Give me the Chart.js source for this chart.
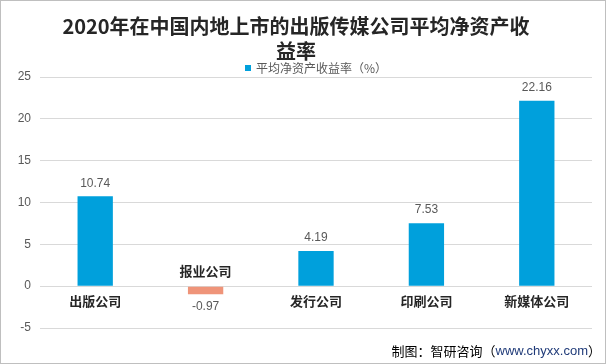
<!DOCTYPE html>
<html>
<head>
<meta charset="utf-8">
<script src="https://cdn.jsdelivr.net/npm/chart.js@4"></script>
<style>
  html, body { margin: 0; padding: 0; background: #fff; }
  #wrap { width: 606px; height: 364px; position: relative; }
</style>
</head>
<body>
<div id="wrap"><canvas id="chart"></canvas></div>
<script>
const categories = ['出版公司', '报业公司', '发行公司', '印刷公司', '新媒体公司'];
const roeValues = [10.74, -0.97, 4.19, 7.53, 22.16];
const seriesName = '平均净资产收益率（%）';
const titleLines = ['2020年在中国内地上市的出版传媒公司平均净资产收', '益率'];
const yTicks = [-5, 0, 5, 10, 15, 20, 25];

const BLUE = '#00A0DC';
const SALMON = '#EF9479';
const CJK = '"Noto Sans CJK SC", sans-serif';
const LATIN = '"Liberation Sans", Arial, sans-serif';

// labels: value above/below bar, category name at the zero line
const labelPlugin = {
    id: 'labels',
    afterDatasetsDraw(chart) {
        const ctx = chart.ctx;
        const meta = chart.getDatasetMeta(0);
        const zero = chart.scales.y.getPixelForValue(0);
        ctx.save();
        ctx.textAlign = 'center';
        ctx.textBaseline = 'middle';
        meta.data.forEach((bar, i) => {
            const v = roeValues[i];
            const up = v >= 0;
            ctx.font = '12px ' + LATIN;
            ctx.fillStyle = '#595959';
            ctx.fillText(v.toFixed(2), bar.x, up ? bar.y - 13 : bar.y + 12);
            ctx.font = 'bold 13px ' + CJK;
            ctx.fillStyle = '#262626';
            ctx.fillText(categories[i], bar.x, up ? zero + 15 : zero - 15);
        });
        ctx.restore();
    },
    afterDraw(chart) {
        const ctx = chart.ctx;
        const area = chart.chartArea;
        ctx.save();
        ctx.textBaseline = 'middle';

        // legend, centred over the plot area
        ctx.font = '12px ' + CJK;
        const lw = ctx.measureText(seriesName).width;
        const lx = (area.left + area.right) / 2 - (6 + 5 + lw) / 2;
        ctx.fillStyle = BLUE;
        ctx.fillRect(Math.round(lx), 65, 6, 6);
        ctx.fillStyle = '#595959';
        ctx.fillText(seriesName, lx + 11, 68);

        // source note
        ctx.font = '13px ' + CJK;
        const a = '制图：智研咨询（';
        const b = 'www.chyxx.com';
        const c = '）';
        const wa = ctx.measureText(a).width;
        const wc = ctx.measureText(c).width;
        ctx.font = '13px ' + LATIN;
        const wb = ctx.measureText(b).width;
        const x = 601 - wa - wb - wc;
        const yy = 351;
        ctx.font = '13px ' + CJK;
        ctx.fillStyle = '#000';
        ctx.fillText(a, x, yy);
        ctx.font = '13px ' + LATIN;
        ctx.fillStyle = '#1F3A78';
        ctx.fillText(b, x + wa, yy);
        ctx.font = '13px ' + CJK;
        ctx.fillStyle = '#000';
        ctx.fillText(c, x + wa + wb, yy);

        // outer frame
        ctx.strokeStyle = '#BFBFBF';
        ctx.lineWidth = 1;
        ctx.strokeRect(0.5, 0.5, 605, 363);
        ctx.restore();
    }
};

new Chart(document.getElementById('chart'), {
    type: 'bar',
    data: {
        labels: categories,
        datasets: [{
            label: seriesName,
            data: roeValues,
            backgroundColor: roeValues.map(v => v < 0 ? SALMON : BLUE),
            barPercentage: 0.32,
            categoryPercentage: 1
        }]
    },
    options: {
        responsive: true,
        maintainAspectRatio: false,
        animation: false,
        layout: { padding: { top: 0, right: 14, bottom: 28, left: 0 } },
        plugins: {
            title: {
                display: true,
                text: titleLines,
                color: '#262626',
                font: { family: CJK, size: 20, weight: 'bold', lineHeight: '25px' },
                padding: { top: 14, bottom: 13 }
            },
            legend: { display: false },
            tooltip: { enabled: false }
        },
        scales: {
            x: {
                grid: { display: false },
                border: { display: false },
                ticks: { display: false }
            },
            y: {
                min: -5,
                max: 25,
                afterBuildTicks: axis => { axis.ticks = yTicks.map(v => ({ value: v })); },
                afterFit: axis => { axis.width = 40; },
                grid: { color: '#D9D9D9', drawTicks: false },
                border: { display: false },
                ticks: {
                    color: '#595959',
                    padding: 9,
                    font: { family: LATIN, size: 12 }
                }
            }
        }
    },
    plugins: [labelPlugin]
});
</script>
</body>
</html>
